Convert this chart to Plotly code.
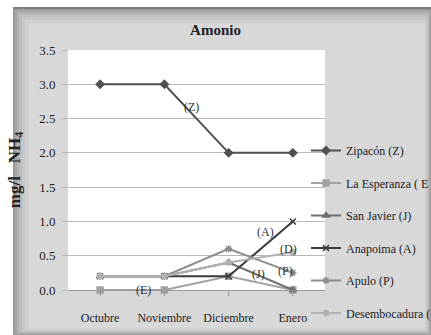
import plotly.graph_objects as go

# Monthly ammonium (mg/l NH4) per sampling station
months = ["Octubre", "Noviembre", "Diciembre", "Enero"]
zipacon = [3.0, 3.0, 2.0, 2.0]
la_esperanza = [0.0, 0.0, 0.2, 0.0]
san_javier = [0.2, 0.2, 0.4, 0.0]
anapoima = [0.2, 0.2, 0.2, 1.0]
apulo = [0.2, 0.2, 0.6, 0.25]
desembocadura = [0.2, 0.2, 0.4, 0.55]

series = [
    ("Zipacón (Z)", zipacon, "#505050", "diamond", 6),
    ("La Esperanza ( E )", la_esperanza, "#a2a2a2", "square", 6),
    ("San Javier (J)", san_javier, "#6e6e6e", "triangle-up", 6),
    ("Anapoima (A)", anapoima, "#3a3a3a", "x-thin-open", 6),
    ("Apulo (P)", apulo, "#8c8c8c", "asterisk-open", 6),
    ("Desembocadura (D)", desembocadura, "#b2b2b2", "circle", 5),
]

# Station tags written next to their lines: (text, x position, y value)
tags = [
    ("(Z)", 1.42, 2.67),
    ("(E)", 0.67, 0.0),
    ("(J)", 2.47, 0.24),
    ("(P)", 2.88, 0.27),
    ("(D)", 2.93, 0.6),
    ("(A)", 2.58, 0.85),
]

SERIF = "Liberation Serif, Times New Roman, serif"
W, H = 431, 335
# plot area edges in pixels
PL, PR, PT, PB = 68, 325, 50, 290


def fx(x):
    return x / W


def fy(y):
    return 1 - y / H


fig = go.Figure()
idx = list(range(len(months)))
for i, (name, vals, color, sym, size) in enumerate(series):
    fig.add_trace(go.Scatter(
        x=idx, y=vals, name=name, mode="lines+markers",
        line=dict(color=color, width=2),
        marker=dict(symbol=sym, size=size, color=color,
                    line=dict(color=color, width=1.5)),
        legendgroup=f"g{i}", cliponaxis=False,
    ))

for text, x, y in tags:
    fig.add_annotation(x=x, y=y, text=text, showarrow=False,
                       font=dict(family=SERIF, size=12, color="#333333"))

# Bevelled grey frame behind the chart (darker at the rim, lighter inside)
shapes = []
frame = [(0, "#9a9a9a"), (2, "#a6a6a6"), (4, "#b2b2b2"), (6, "#bdbdbd"),
         (9, "#c7c7c7"), (12, "#d0d0d0"), (16, "#d8d8d8")]
for inset, col in frame:
    shapes.append(dict(
        type="rect", xref="paper", yref="paper", layer="below",
        x0=fx(13 + inset), x1=fx(431 - inset * 0.4),
        y0=fy(335 - inset * 0.4), y1=fy(8 + inset),
        fillcolor=col, line=dict(width=0)))
shapes.append(dict(type="line", xref="paper", yref="paper", layer="below",
                   x0=fx(13), x1=fx(431), y0=fy(8), y1=fy(8),
                   line=dict(color="#7c7c7c", width=2)))
shapes.append(dict(type="rect", xref="paper", yref="paper", layer="below",
                   x0=fx(PL), x1=fx(PR), y0=fy(PB), y1=fy(PT),
                   fillcolor="white", line=dict(width=0)))

fig.update_layout(
    width=W, height=H,
    margin=dict(l=0, r=0, t=0, b=0, autoexpand=False),
    paper_bgcolor="white", plot_bgcolor="rgba(0,0,0,0)",
    shapes=shapes,
    title=dict(text="<b>Amonio</b>", x=0.5, xref="container", xanchor="center",
               y=1 - 30 / H, yref="container", yanchor="middle",
               font=dict(family=SERIF, size=15, color="#222222")),
    font=dict(family=SERIF, size=12, color="#222222"),
    showlegend=True,
    legend=dict(x=fx(306), y=fy(136), xanchor="left", yanchor="top",
                bgcolor="rgba(0,0,0,0)", itemwidth=30, tracegroupgap=13.5,
                font=dict(family=SERIF, size=12, color="#222222")),
    xaxis=dict(
        domain=[fx(PL), fx(PR)],
        tickmode="array", tickvals=idx, ticktext=months, tickangle=0,
        range=[-0.5, 3.5], tickson="boundaries", ticks="outside",
        ticklen=5, tickcolor="#999999", showline=True, linecolor="#999999",
        showgrid=False, zeroline=False, ticklabelstandoff=12, automargin=False,
        tickfont=dict(family=SERIF, size=12, color="#222222"),
    ),
    yaxis=dict(
        domain=[fy(PB), fy(PT)],
        range=[0, 3.5], dtick=0.5, tickformat=".1f", automargin=False,
        ticks="outside", ticklen=5, tickcolor="#b4b4b4",
        gridcolor="#b8b8b8", gridwidth=1, showline=False, zeroline=False,
        ticklabelstandoff=4,
        tickfont=dict(family=SERIF, size=13, color="#222222"),
        title=dict(text="<b>mg/l&nbsp;&nbsp;&nbsp;NH<sub>4</sub></b>",
                   standoff=14,
                   font=dict(family=SERIF, size=17, color="#222222")),
    ),
)

fig.write_html("out.html")
